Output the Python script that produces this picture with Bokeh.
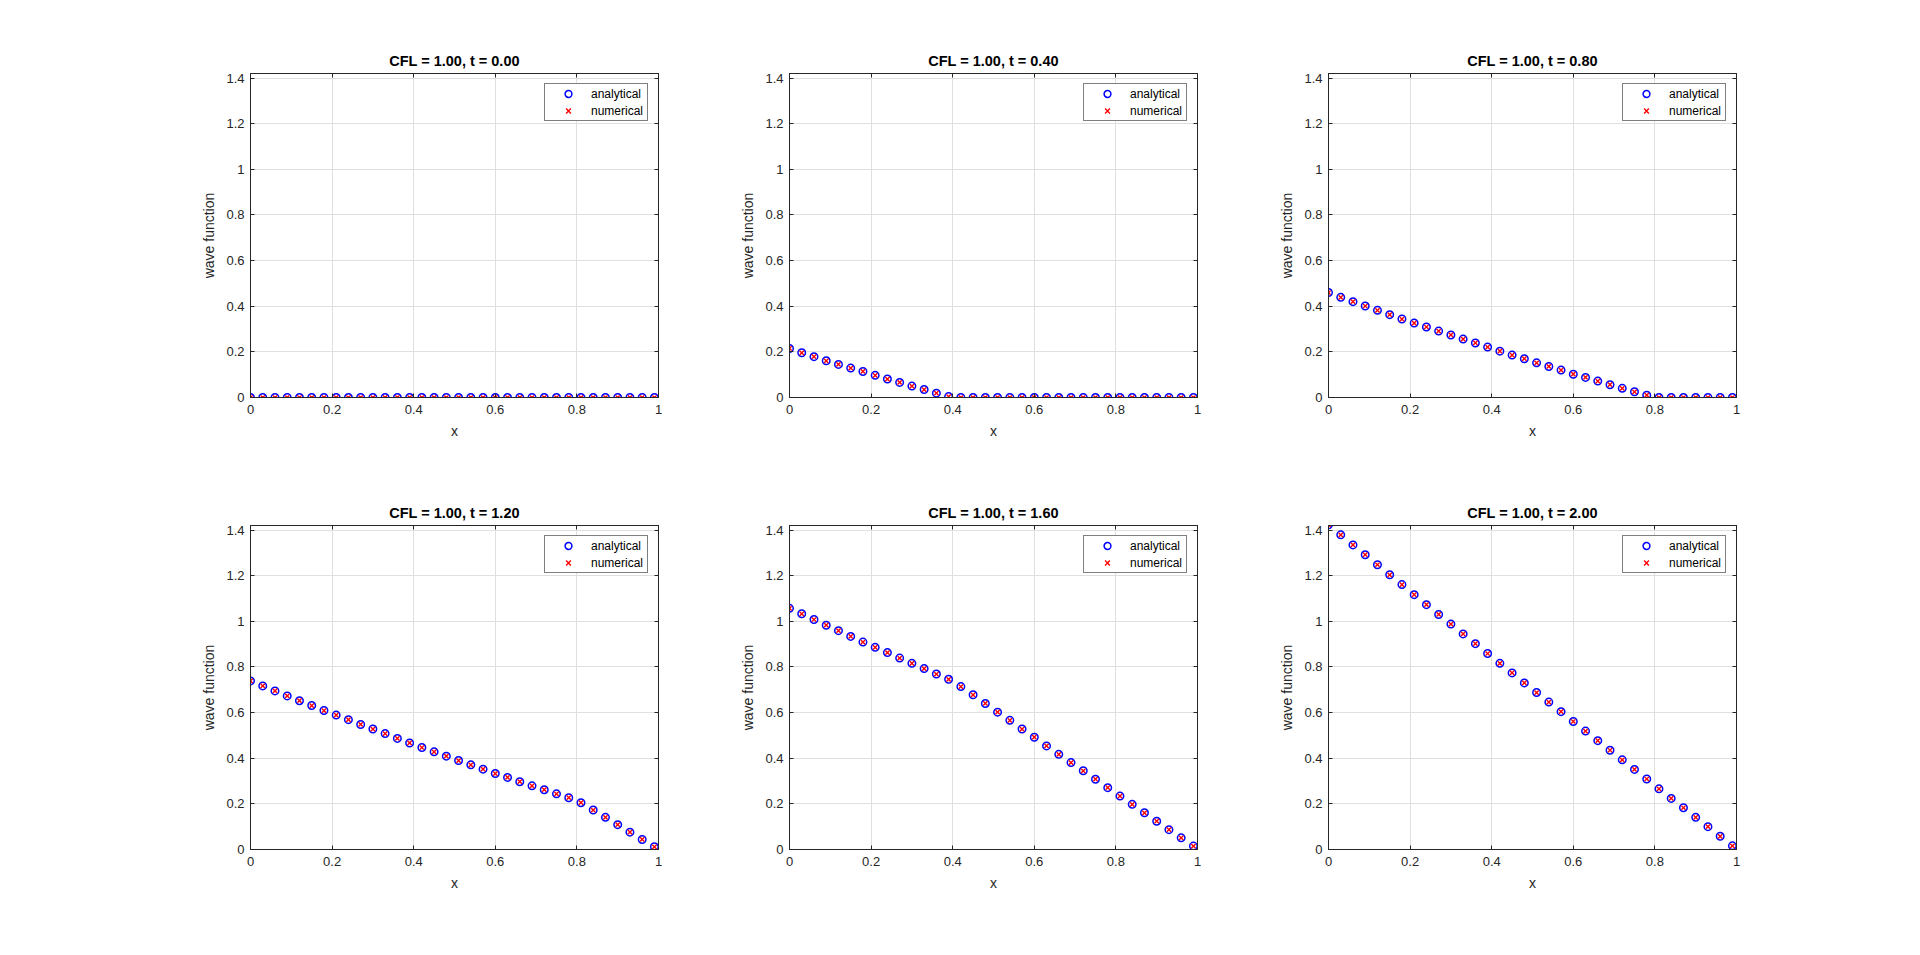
from bokeh.plotting import figure
from bokeh.layouts import gridplot
from bokeh.models import LinearAxis, FixedTicker, Range1d, CustomJSTickFormatter
from bokeh.embed import file_html
from bokeh.resources import INLINE

# ---------------- data ----------------
x_values = [0.00, 0.03, 0.06, 0.09, 0.12, 0.15, 0.18, 0.21, 0.24, 0.27,
            0.30, 0.33, 0.36, 0.39, 0.42, 0.45, 0.48, 0.51, 0.54, 0.57,
            0.60, 0.63, 0.66, 0.69, 0.72, 0.75, 0.78, 0.81, 0.84, 0.87,
            0.90, 0.93, 0.96, 0.99]

time_labels = ["0.00", "0.40", "0.80", "1.20", "1.60", "2.00"]

u_t000 = [0.0, 0.0, 0.0, 0.0, 0.0, 0.0, 0.0, 0.0, 0.0, 0.0,
          0.0, 0.0, 0.0, 0.0, 0.0, 0.0, 0.0, 0.0, 0.0, 0.0,
          0.0, 0.0, 0.0, 0.0, 0.0, 0.0, 0.0, 0.0, 0.0, 0.0,
          0.0, 0.0, 0.0, 0.0]

u_t040 = [0.215, 0.196, 0.179, 0.161, 0.145, 0.129, 0.114, 0.097, 0.081, 0.066,
          0.050, 0.035, 0.019, 0.004, 0.0, 0.0, 0.0, 0.0, 0.0, 0.0,
          0.0, 0.0, 0.0, 0.0, 0.0, 0.0, 0.0, 0.0, 0.0, 0.0,
          0.0, 0.0, 0.0, 0.0]

u_t080 = [0.460, 0.439, 0.420, 0.401, 0.382, 0.363, 0.344, 0.326, 0.309, 0.291,
          0.274, 0.256, 0.239, 0.221, 0.203, 0.186, 0.170, 0.152, 0.136, 0.120,
          0.102, 0.088, 0.072, 0.056, 0.040, 0.025, 0.010, 0.0, 0.0, 0.0,
          0.0, 0.0, 0.0, 0.0]

u_t120 = [0.739, 0.717, 0.695, 0.673, 0.652, 0.631, 0.609, 0.589, 0.569, 0.548,
          0.528, 0.508, 0.487, 0.467, 0.447, 0.428, 0.409, 0.390, 0.371, 0.352,
          0.333, 0.316, 0.297, 0.279, 0.262, 0.244, 0.227, 0.205, 0.173, 0.141,
          0.109, 0.076, 0.044, 0.012]

u_t160 = [1.057, 1.033, 1.008, 0.983, 0.959, 0.934, 0.909, 0.886, 0.863, 0.839,
          0.816, 0.793, 0.769, 0.746, 0.714, 0.678, 0.640, 0.602, 0.566, 0.528,
          0.492, 0.454, 0.417, 0.381, 0.345, 0.308, 0.271, 0.234, 0.198, 0.161,
          0.124, 0.087, 0.051, 0.015]

u_t200 = [1.423, 1.379, 1.335, 1.292, 1.248, 1.204, 1.161, 1.117, 1.073, 1.030,
          0.988, 0.945, 0.902, 0.859, 0.816, 0.774, 0.730, 0.688, 0.646, 0.604,
          0.561, 0.519, 0.477, 0.435, 0.393, 0.351, 0.309, 0.266, 0.224, 0.183,
          0.141, 0.100, 0.058, 0.016]

# analytical and numerical solutions coincide in the picture
analytical = [u_t000, u_t040, u_t080, u_t120, u_t160, u_t200]
numerical = [u_t000, u_t040, u_t080, u_t120, u_t160, u_t200]

x_ticks = [0, 0.2, 0.4, 0.6, 0.8, 1]
x_tick_labels = ["0", "0.2", "0.4", "0.6", "0.8", "1"]
y_ticks = [0, 0.2, 0.4, 0.6, 0.8, 1, 1.2, 1.4]
y_tick_labels = ["0", "0.2", "0.4", "0.6", "0.8", "1", "1.2", "1.4"]

# ---------------- styling ----------------
FONT = "Liberation Sans"
AX = "#262626"
GRID = "#dfdfdf"
FRAME_W, FRAME_H = 408, 324


def style_axis(ax, ticks, labels, standoff, show_labels=True):
    ax.ticker = FixedTicker(ticks=ticks)
    ax.axis_line_color = AX
    ax.axis_line_width = 1
    ax.major_tick_line_color = AX
    ax.major_tick_in = 4
    ax.major_tick_out = 0
    ax.minor_tick_line_color = None
    ax.major_label_text_font = FONT
    ax.major_label_text_color = AX
    if show_labels:
        ax.major_label_overrides = {t: l for t, l in zip(ticks, labels)}
        ax.major_label_text_font_size = "13px"
        ax.major_label_standoff = standoff
    else:
        ax.formatter = CustomJSTickFormatter(code="return ''")
        ax.major_label_text_font_size = "0px"
        ax.major_label_standoff = 0
    ax.axis_label_text_font = FONT
    ax.axis_label_text_font_size = "14px"
    ax.axis_label_text_font_style = "normal"
    ax.axis_label_text_color = AX


def make_panel(idx):
    col = idx % 3
    rowi = idx // 3
    left = 250 if col == 0 else 101
    right = 60 if col == 2 else 30
    top = 73 if rowi == 0 else 68
    bottom = 60
    p = figure(width=left + FRAME_W + right, height=top + FRAME_H + bottom,
               x_range=Range1d(0, 1), y_range=Range1d(0, 1.42),
               output_backend="svg", toolbar_location=None,
               min_border_left=left, min_border_right=right,
               min_border_top=top, min_border_bottom=bottom,
               title="CFL = 1.00, t = " + time_labels[idx])
    p.background_fill_color = "white"
    p.border_fill_color = "white"
    p.outline_line_color = AX
    p.outline_line_width = 1

    p.title.text_font = FONT
    p.title.text_font_size = "14.5px"
    p.title.text_font_style = "bold"
    p.title.text_color = "#000000"
    p.title.align = "center"
    p.title.standoff = 9

    style_axis(p.xaxis[0], x_ticks, x_tick_labels, 7)
    style_axis(p.yaxis[0], y_ticks, y_tick_labels, 6)
    p.xaxis[0].axis_label = "x"
    p.xaxis[0].axis_label_standoff = 6
    p.yaxis[0].axis_label = "wave function"
    p.yaxis[0].axis_label_standoff = 6

    top_ax = LinearAxis()
    style_axis(top_ax, x_ticks, x_tick_labels, 0, show_labels=False)
    p.add_layout(top_ax, "above")
    right_ax = LinearAxis()
    style_axis(right_ax, y_ticks, y_tick_labels, 0, show_labels=False)
    p.add_layout(right_ax, "right")

    p.xgrid.ticker = FixedTicker(ticks=x_ticks)
    p.ygrid.ticker = FixedTicker(ticks=y_ticks)
    p.xgrid.grid_line_color = GRID
    p.ygrid.grid_line_color = GRID

    p.scatter(x_values, analytical[idx], marker="circle", size=7.5,
              fill_color=None, line_color="#0000ff", line_width=1.5,
              legend_label="analytical")
    p.scatter(x_values, numerical[idx], marker="x", size=6,
              line_color="#ff0000", line_width=1.4,
              legend_label="numerical")

    lg = p.legend[0]
    lg.location = "top_right"
    lg.margin = 10
    lg.padding = 1
    lg.spacing = 0
    lg.glyph_width = 44
    lg.glyph_height = 17
    lg.label_height = 17
    lg.label_width = 55
    lg.label_standoff = 1
    lg.border_line_color = "#000000"
    lg.border_line_width = 1
    lg.background_fill_color = "white"
    lg.background_fill_alpha = 1
    lg.label_text_font = FONT
    lg.label_text_font_size = "12px"
    lg.label_text_color = "#000000"
    return p


panels = [make_panel(i) for i in range(6)]
grid = gridplot([panels[0:3], panels[3:6]], toolbar_location=None)

open("out.html", "w").write(file_html(grid, INLINE))
